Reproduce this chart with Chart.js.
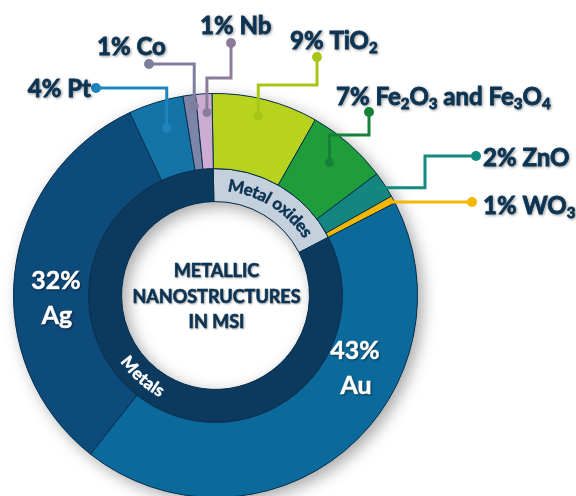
<!DOCTYPE html>
<html lang="en">
<head>
<meta charset="UTF-8">
<title>Metallic nanostructures in MSI</title>
<script src="https://cdn.jsdelivr.net/npm/chart.js"></script>
<style>
  * { margin: 0; padding: 0; box-sizing: border-box; }
  body { background: #fff; width: 576px; height: 496px; overflow: hidden; }
  canvas { display: block; }
</style>
</head>
<body>
<canvas id="donut" width="576" height="500"></canvas>
<script>
// outer ring - one slice per material (shares)
const materials = ['TiO2', 'Fe2O3 and Fe3O4', 'ZnO', 'WO3', 'Au', 'Ag', 'Pt', 'Co', 'Nb'];
const shares = [8.5, 6.5, 2.1, 0.6, 43.2, 32.4, 4.4, 1.0, 1.3];
const pctLabels = [9, 7, 2, 1, 43, 32, 4, 1, 1];
// inner ring - which group each material belongs to
const groups = ['Metal oxides', 'Metals'];
const groupOf = [0, 0, 0, 0, 1, 1, 1, 1, 1];
const groupShares = groups.map((g, gi) => shares.reduce((s, v, i) => s + (groupOf[i] === gi ? v : 0), 0));
const centerLines = ['METALLIC', 'NANOSTRUCTURES', 'IN MSI'];

const sliceColors = ['#b7d31d', '#1f9d3b', '#13877f', '#f5b800', '#0b6a9b', '#0d4b7b', '#1473a7', '#7c85a7', '#cdacd3'];
const lineColors  = ['#a8c617', '#178038', '#138a80', '#f5b800', null, null, '#1f84bd', '#7e7e9e', '#8b7c9b'];
const groupColors = ['#c4d1dd', '#0b3a5e'];
const navy = '#0b3454';
const FONT = 'Lato, "Open Sans", sans-serif';

// callout placement: text anchor, and the elbow route from label dot to slice point e
const callouts = {
  6: { x: 91,  y: 88,  align: 'right', frac: 0.56, rf: 0.63, endDot: true,
       route: e => [[96, 88], [e.x, 88], [e.x, e.y]] },
  7: { x: 97,  y: 46,  align: 'left', frac: 0.8, rf: 0.85, endDot: true,
       route: e => [[149, 64], [e.x, 64], [e.x, e.y]] },
  8: { x: 200, y: 25,  align: 'left', frac: 0.64, rf: 0.75, endDot: true,
       route: e => [[231, 43], [231, 78], [e.x, 78], [e.x, e.y]] },
  0: { x: 290, y: 40,  align: 'left', frac: 0.47, rf: 0.77, endDot: true,
       route: e => [[317, 57], [317, 85], [e.x, 85], [e.x, e.y]] },
  1: { x: 336, y: 96,  align: 'left', frac: 0.47, rf: 0.64, endDot: true,
       route: e => [[369, 112], [369, 135], [e.x, 135], [e.x, e.y]] },
  2: { x: 483, y: 157, align: 'left', frac: 0.45, rf: 0.9, endDot: false,
       route: e => [[476, 156], [425, 156], [425, e.y], [e.x, e.y]] },
  3: { x: 483, y: 205, align: 'left', frac: 0.7, rf: 0.97, endDot: false,
       route: e => [[472, 202], [e.x, e.y]] }
};
const insideLabels = { 4: { x: 355, y: 351 }, 5: { x: 56, y: 281 } };
const ringLabelAngles = [32, 222]; // degrees clockwise from top
const ringLabelColors = [navy, '#ffffff'];

function toSegments(str) {
  // digits right after a letter become subscripts (chemical formulas)
  const segs = [];
  for (let i = 0; i < str.length; i++) {
    const ch = str[i];
    const sub = /\d/.test(ch) && i > 0 && /[A-Za-z]/.test(str[i - 1]);
    if (segs.length && segs[segs.length - 1][1] === sub) segs[segs.length - 1][0] += ch;
    else segs.push([ch, sub]);
  }
  return segs;
}

function drawRich(ctx, segs, x, y, align, size) {
  const main = `bold ${size}px ${FONT}`, sub = `bold ${Math.round(size * 0.62)}px ${FONT}`;
  let w = 0;
  segs.forEach(s => { ctx.font = s[1] ? sub : main; w += ctx.measureText(s[0]).width; });
  let cx = align === 'right' ? x - w : x;
  const base = y + size * 0.358;
  ctx.textAlign = 'left';
  ctx.textBaseline = 'alphabetic';
  segs.forEach(s => {
    ctx.font = s[1] ? sub : main;
    const yy = s[1] ? base + size * 0.2 : base;
    ctx.strokeText(s[0], cx, yy);
    ctx.fillText(s[0], cx, yy);
    cx += ctx.measureText(s[0]).width;
  });
}

function arcPoint(el, frac, rf) {
  const p = el.getProps(['x', 'y', 'startAngle', 'endAngle', 'innerRadius', 'outerRadius'], true);
  const a = p.startAngle + frac * (p.endAngle - p.startAngle);
  const r = p.innerRadius + rf * (p.outerRadius - p.innerRadius);
  return { x: p.x + r * Math.cos(a), y: p.y + r * Math.sin(a) };
}

function textOnArc(ctx, text, cx, cy, r, centerDeg, outward) {
  const widths = [...text].map(ch => ctx.measureText(ch).width);
  const total = widths.reduce((a, b) => a + b, 0);
  const c = centerDeg * Math.PI / 180;
  let acc = 0;
  [...text].forEach((ch, i) => {
    const off = (acc + widths[i] / 2 - total / 2) / r;
    const a = outward ? c + off : c - off;
    ctx.save();
    ctx.translate(cx + r * Math.sin(a), cy - r * Math.cos(a));
    ctx.rotate(outward ? a : a - Math.PI);
    ctx.strokeText(ch, 0, 0);
    ctx.fillText(ch, 0, 0);
    ctx.restore();
    acc += widths[i];
  });
}

const decor = {
  id: 'decor',
  beforeDatasetsDraw(chart) {
    // soft drop shadow behind the whole ring
    const el = chart.getDatasetMeta(0).data[0];
    const inner = chart.getDatasetMeta(1).data[0];
    const ctx = chart.ctx;
    ctx.save();
    ctx.shadowColor = 'rgba(0,0,0,0.35)';
    ctx.shadowBlur = 16;
    ctx.shadowOffsetX = 5;
    ctx.shadowOffsetY = 5;
    ctx.fillStyle = '#0b4a78';
    ctx.beginPath();
    ctx.arc(el.x, el.y, el.outerRadius, 0, Math.PI * 2);
    ctx.arc(el.x, el.y, inner.innerRadius, 0, Math.PI * 2, true);
    ctx.fill();
    ctx.restore();
  },
  afterDatasetsDraw(chart) {
    const ctx = chart.ctx;
    const outer = chart.getDatasetMeta(0).data;
    const inner = chart.getDatasetMeta(1).data;
    const cx = outer[0].x, cy = outer[0].y;

    // leader lines
    Object.keys(callouts).forEach(k => {
      const c = callouts[k];
      const e = arcPoint(outer[k], c.frac, c.rf);
      const pts = c.route(e);
      ctx.save();
      ctx.strokeStyle = lineColors[k];
      ctx.fillStyle = lineColors[k];
      ctx.lineWidth = 3;
      ctx.lineJoin = 'miter';
      ctx.beginPath();
      pts.forEach((p, i) => i ? ctx.lineTo(p[0], p[1]) : ctx.moveTo(p[0], p[1]));
      ctx.stroke();
      ctx.beginPath();
      ctx.arc(pts[0][0], pts[0][1], 5, 0, Math.PI * 2);
      ctx.fill();
      if (c.endDot) {
        ctx.beginPath();
        ctx.arc(e.x, e.y, 4.5, 0, Math.PI * 2);
        ctx.fill();
      }
      ctx.restore();
    });

    // outside labels
    ctx.save();
    ctx.fillStyle = navy;
    ctx.strokeStyle = navy;
    ctx.lineWidth = 0.8;
    ctx.shadowColor = 'rgba(0,0,0,0.35)';
    ctx.shadowBlur = 3;
    ctx.shadowOffsetX = 1;
    ctx.shadowOffsetY = 1;
    Object.keys(callouts).forEach(k => {
      const c = callouts[k];
      drawRich(ctx, toSegments(`${pctLabels[k]}% ${materials[k]}`), c.x, c.y, c.align, 24);
    });
    ctx.restore();

    // labels inside the big slices
    ctx.save();
    ctx.fillStyle = '#ffffff';
    ctx.strokeStyle = '#ffffff';
    ctx.lineWidth = 0.6;
    ctx.shadowColor = 'rgba(0,0,0,0.4)';
    ctx.shadowBlur = 2;
    ctx.shadowOffsetX = 1;
    ctx.shadowOffsetY = 1;
    ctx.font = `bold 25px ${FONT}`;
    ctx.textAlign = 'center';
    ctx.textBaseline = 'middle';
    Object.keys(insideLabels).forEach(k => {
      const p = insideLabels[k];
      ctx.strokeText(`${pctLabels[k]}%`, p.x, p.y);
      ctx.fillText(`${pctLabels[k]}%`, p.x, p.y);
      ctx.strokeText(materials[k], p.x + 1, p.y + 35);
      ctx.fillText(materials[k], p.x + 1, p.y + 35);
    });
    ctx.restore();

    // curved group names on the inner ring
    const ri = (inner[0].innerRadius + inner[0].outerRadius) / 2;
    ctx.save();
    ctx.font = `bold 17px ${FONT}`;
    ctx.textAlign = 'center';
    ctx.textBaseline = 'middle';
    ctx.lineWidth = 0.5;
    groups.forEach((g, i) => {
      ctx.fillStyle = ringLabelColors[i];
      ctx.strokeStyle = ringLabelColors[i];
      textOnArc(ctx, g, cx, cy, ri, ringLabelAngles[i], i === 0);
    });
    ctx.restore();

    // centre title
    ctx.save();
    ctx.fillStyle = navy;
    ctx.strokeStyle = navy;
    ctx.lineWidth = 0.6;
    ctx.shadowColor = 'rgba(0,0,0,0.3)';
    ctx.shadowBlur = 2;
    ctx.shadowOffsetX = 1;
    ctx.shadowOffsetY = 1;
    ctx.font = `bold 18px ${FONT}`;
    ctx.textAlign = 'center';
    ctx.textBaseline = 'middle';
    centerLines.forEach((t, i) => {
      ctx.strokeText(t, cx + 1, cy - 24 + i * 25.5);
      ctx.fillText(t, cx + 1, cy - 24 + i * 25.5);
    });
    ctx.restore();
  }
};

new Chart(document.getElementById('donut'), {
  type: 'doughnut',
  data: {
    labels: materials,
    datasets: [
      {
        data: shares,
        backgroundColor: sliceColors,
        borderColor: '#0a3150',
        borderWidth: 1,
        weight: 75
      },
      {
        data: groupShares,
        backgroundColor: groupColors,
        borderColor: '#0a3150',
        borderWidth: 1,
        weight: 33
      }
    ]
  },
  options: {
    responsive: false,
    animation: false,
    rotation: -1,
    cutout: '46.5%',
    layout: { padding: { left: 13, top: 93, right: 158, bottom: 2 } },
    plugins: {
      legend: { display: false },
      tooltip: { enabled: false }
    }
  },
  plugins: [decor]
});
</script>
</body>
</html>
